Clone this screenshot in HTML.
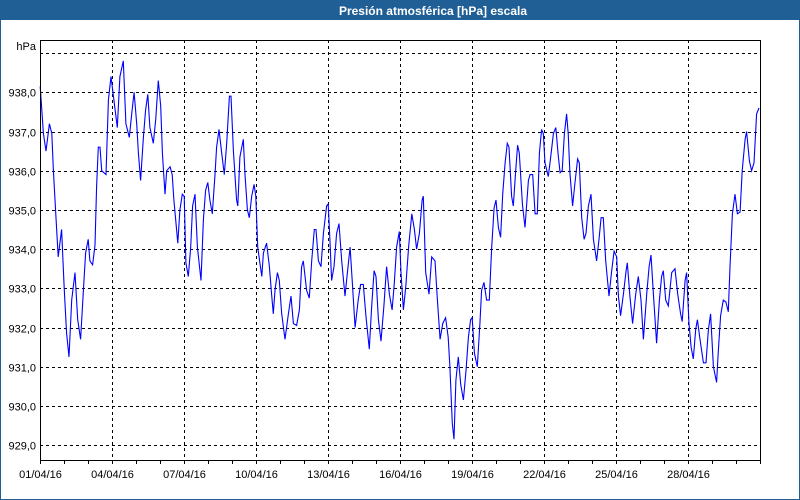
<!DOCTYPE html>
<html><head><meta charset="utf-8"><style>
html,body{margin:0;padding:0;background:#fff;}
svg{display:block;font-family:"Liberation Sans",sans-serif;}
</style></head><body>
<svg id="chart" width="800" height="500" viewBox="0 0 800 500">
<rect x="0.5" y="0.5" width="799" height="499" fill="#fff" stroke="#1f5f95"/>
<rect x="0" y="0" width="800" height="20" fill="#1f5f95"/>
<text x="433" y="15" fill="#fff" font-size="12" font-weight="bold" text-anchor="middle">Presión atmosférica [hPa] escala</text>
<text x="36" y="50" font-size="11" text-anchor="end" fill="#000">hPa</text>
<g id="grid"></g>
<g id="axes"></g>
<g id="series"></g>
<rect x="40.5" y="40.5" width="720" height="420" fill="none" stroke="#000"/>
</svg>
<script>
const days = [0.01,0.14,0.25,0.39,0.49,0.56,0.67,0.76,0.90,1.01,1.11,1.21,1.32,1.46,1.57,1.69,1.81,1.90,2.01,2.08,2.19,2.29,2.36,2.43,2.50,2.57,2.75,2.85,2.96,3.22,3.33,3.47,3.58,3.72,3.82,3.92,4.03,4.10,4.19,4.31,4.40,4.49,4.58,4.72,4.82,4.93,5.03,5.10,5.21,5.28,5.42,5.51,5.58,5.74,5.83,5.93,6.01,6.08,6.18,6.28,6.36,6.46,6.56,6.71,6.81,6.90,6.99,7.08,7.18,7.29,7.36,7.46,7.57,7.68,7.78,7.89,7.96,8.06,8.19,8.24,8.33,8.47,8.54,8.64,8.72,8.82,8.92,8.99,9.07,9.24,
9.31,9.44,9.56,9.65,9.72,9.79,9.89,9.97,10.07,10.21,10.35,10.46,10.56,10.69,10.81,10.90,10.97,11.11,11.22,11.32,11.43,11.50,11.60,11.71,11.81,11.94,12.01,12.08,12.15,12.25,12.36,12.46,12.57,12.71,12.81,12.92,13.01,13.13,13.26,13.36,13.47,13.58,13.72,13.82,13.92,14.00,14.10,14.21,14.33,14.44,14.56,14.67,14.76,14.86,14.97,15.04,15.14,15.24,15.36,15.49,15.60,15.69,15.81,15.92,15.97,16.07,16.21,16.32,16.46,16.56,16.67,16.78,16.90,17.01,17.08,17.18,17.25,17.33,17.43,17.53,17.64,17.75,17.85,17.94,18.01,18.10,18.22,18.33,18.40,18.50,18.61,18.72,18.82,18.92,19.00,19.10,19.19,19.28,19.38,19.47,19.54,19.65,19.72,19.82,19.90,19.97,20.10,20.21,20.35,
20.42,20.53,20.63,20.72,20.81,20.90,20.97,21.04,21.18,21.28,21.39,21.49,21.60,21.67,21.76,21.85,21.94,22.01,22.08,22.19,22.29,22.40,22.47,22.57,22.67,22.75,22.85,22.96,23.06,23.19,23.29,23.38,23.47,23.57,23.71,23.82,23.92,24.03,24.10,24.19,24.31,24.42,24.47,24.58,24.69,24.82,24.93,25.04,25.14,25.28,25.38,25.46,25.56,25.69,25.81,25.90,25.97,26.07,26.18,26.32,26.46,26.57,26.69,26.76,26.88,26.94,27.04,27.13,27.22,27.32,27.39,27.50,27.64,27.75,27.85,27.94,28.06,28.19,28.26,28.36,28.47,28.58,28.68,28.75,28.85,28.96,29.06,29.17,29.26,29.38,29.44,29.56,29.65,29.75,29.86,29.96];
const pressure = [938.15,936.95,936.5,937.2,936.95,936.0,934.75,933.8,934.5,933.0,931.85,931.25,932.7,933.4,932.2,931.7,932.95,933.9,934.25,933.7,933.6,934.1,935.6,936.6,936.6,936.0,935.9,937.8,938.4,937.1,938.4,938.8,937.2,936.85,937.45,938.0,937.2,936.45,935.75,936.85,937.55,937.95,937.1,936.7,937.3,938.3,937.65,936.45,935.4,936.0,936.1,935.9,935.25,934.15,935.0,935.4,935.35,933.65,933.3,934.05,935.1,935.4,934.05,933.2,934.75,935.5,935.7,935.25,934.9,935.9,936.6,937.05,936.45,935.9,936.7,937.9,937.9,936.5,935.25,935.1,936.35,936.8,935.9,935.0,934.8,935.35,935.65,935.35,934.05,933.3,
933.9,934.15,933.55,932.85,932.35,932.95,933.4,933.2,932.35,931.7,932.35,932.8,932.1,932.05,932.45,933.55,933.7,932.95,932.75,933.7,934.5,934.5,933.7,933.55,934.4,935.1,935.15,934.25,933.2,933.55,934.4,934.65,933.7,932.8,933.4,934.05,933.2,932.0,932.7,933.1,933.1,932.3,931.45,932.55,933.45,933.3,932.2,931.65,932.55,933.55,932.85,932.45,933.1,934.05,934.45,933.4,932.45,933.05,934.05,934.9,934.5,934.0,934.4,935.25,935.35,933.4,932.85,933.8,933.7,932.7,931.7,932.1,932.25,931.75,931.0,929.55,929.15,930.65,931.25,930.55,930.15,930.9,931.75,932.2,932.25,931.35,931.0,932.1,932.95,933.15,932.7,932.7,934.05,935.05,935.25,934.55,934.3,935.4,936.2,936.7,936.6,935.35,935.1,936.0,936.65,936.45,935.15,934.55,935.75,
935.9,935.9,934.9,934.9,936.45,937.05,936.95,936.2,935.85,936.35,936.95,937.1,936.35,935.95,936.0,936.95,937.45,936.95,935.95,935.1,935.7,936.3,936.2,934.8,934.25,934.4,935.1,935.4,934.25,933.7,934.25,934.8,934.8,933.7,932.8,933.45,933.95,933.8,932.8,932.3,932.85,933.45,933.65,932.8,932.1,932.85,933.3,932.7,931.7,932.85,933.55,933.85,932.85,931.6,932.7,933.3,933.45,932.7,932.55,933.4,933.5,932.85,932.35,932.15,933.2,933.4,932.1,931.5,931.2,931.95,932.2,931.7,931.1,931.1,931.95,932.35,931.0,930.6,931.35,932.3,932.7,932.65,932.4,933.55,934.9,935.4,934.9,934.95,936.0,936.8,937.0,936.25,936.0,936.2,937.45,937.6];
const yTicks = [929,930,931,932,933,934,935,936,937,938,939];
const xTickDays = [0,3,6,9,12,15,18,21,24,27];
const xTickLabels = ["01/04/16","04/04/16","07/04/16","10/04/16","13/04/16","16/04/16","19/04/16","22/04/16","25/04/16","28/04/16"];

const NS = "http://www.w3.org/2000/svg";
const X0 = 40, X1 = 760, DAYS = 30;
function xs(d){ return X0 + d * (X1 - X0) / DAYS; }
function ys(v){ return 92.3 - (v - 938) * 39.2; }
function mk(tag, attrs, parent){
  const e = document.createElementNS(NS, tag);
  for (const k in attrs) e.setAttribute(k, attrs[k]);
  parent.appendChild(e);
  return e;
}
const grid = document.getElementById("grid");
const axes = document.getElementById("axes");
const series = document.getElementById("series");

yTicks.forEach(v => {
  const y = Math.round(ys(v)) + 0.5;
  const l = mk("line", {x1: X0, x2: X1, y1: y, y2: y, stroke: "#000", "stroke-dasharray": "3,3", "stroke-width": 1}, grid);
  
  
  if (v < 939) {
    const t = mk("text", {x: 36, y: y + 4, "font-size": 11, "text-anchor": "end", fill: "#000"}, axes);
    t.textContent = v.toFixed(1).replace(".", ",");
    
    
  }
});
xTickDays.forEach((d, i) => {
  const x = Math.round(xs(d)) + 0.5;
  if (d > 0) {
    const l = mk("line", {x1: x, x2: x, y1: 40, y2: 460, stroke: "#000", "stroke-dasharray": "3,3", "stroke-width": 1}, grid);
    
    
  }
  const t = mk("text", {x: x, y: 478, "font-size": 11, "text-anchor": "middle", fill: "#000"}, axes);
  t.textContent = xTickLabels[i];
  
  
});
for (let d = 0; d <= DAYS; d++) {
  const x = Math.round(xs(d)) + 0.5;
  const l = mk("line", {x1: x, x2: x, y1: 460, y2: 464, stroke: "#000"}, axes);
  
  
}
const pts = days.map((d, i) => xs(d).toFixed(1) + "," + ys(pressure[i]).toFixed(1)).join(" ");
const line = mk("polyline", {points: pts, fill: "none", stroke: "#0000ff", "stroke-width": 1.1, "stroke-linejoin": "miter"}, series);


</script>
</body></html>
